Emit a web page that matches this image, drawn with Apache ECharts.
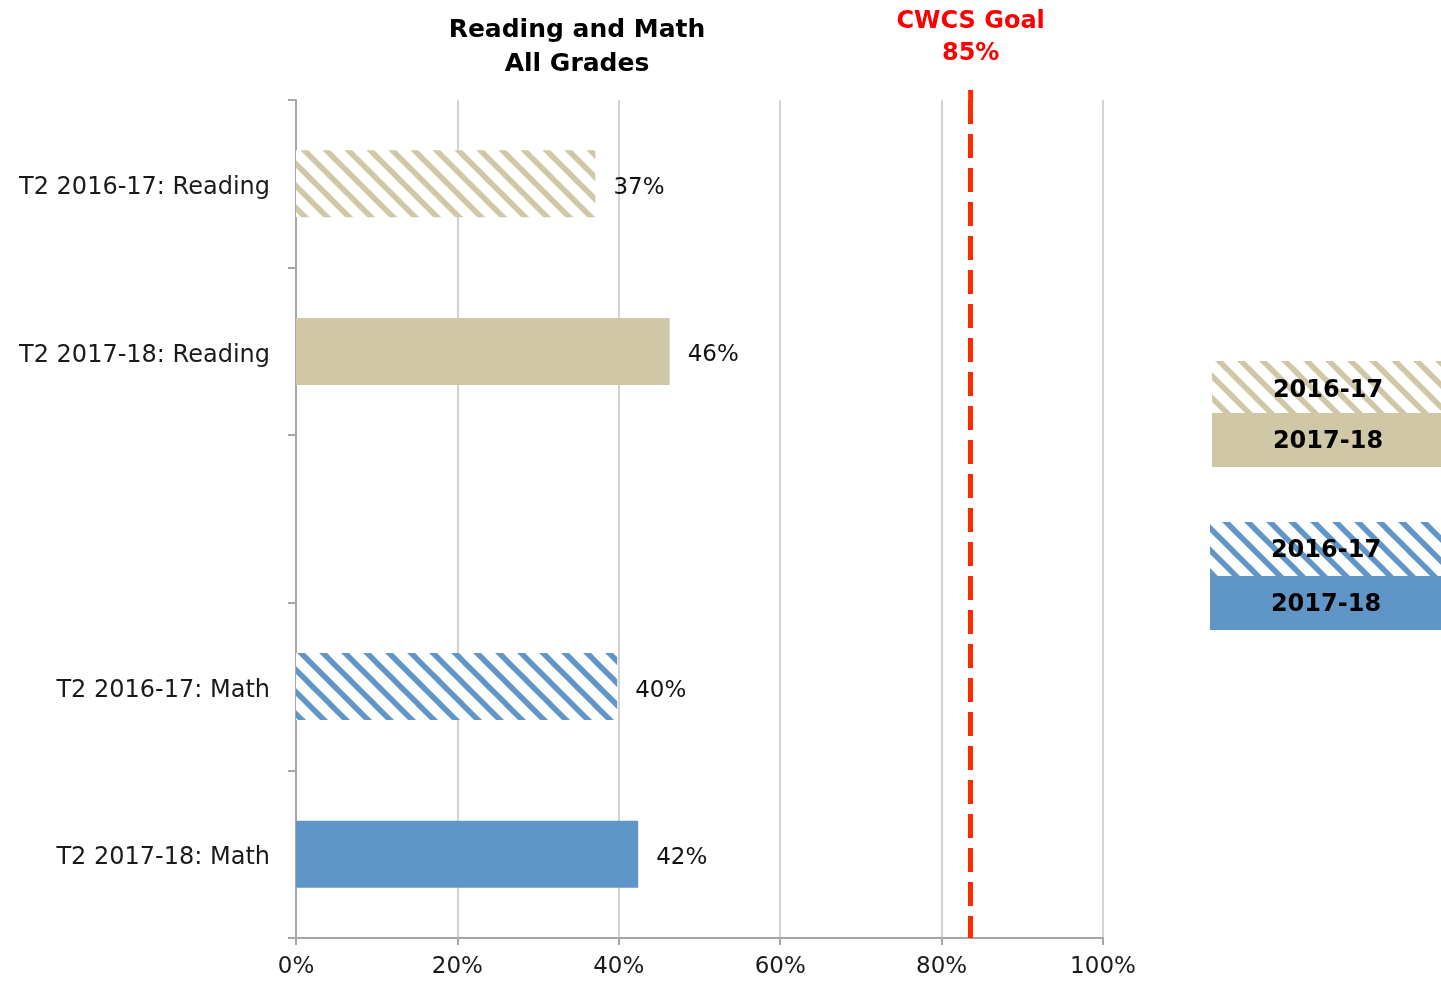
<!DOCTYPE html>
<html><head><meta charset="utf-8">
<script src="https://cdn.jsdelivr.net/npm/echarts@6/dist/echarts.min.js"></script>
<style>html,body{margin:0;padding:0;background:#fff}#c{width:1441px;height:989px}</style>
</head><body><div id="c"></div>
<script>
var categories = ['T2 2016-17: Reading', 'T2 2017-18: Reading', '', 'T2 2016-17: Math', 'T2 2017-18: Math'];
var values = [37.1, 46.3, null, 39.8, 42.4];
var styles = ['tanStripe', 'tanSolid', null, 'blueStripe', 'blueSolid'];
var xTicks = [0, 20, 40, 60, 80, 100];
var goalValue = 83.6;
var goalLabel = 'CWCS Goal\n85%';
var legendGroups = [['2016-17', '2017-18'], ['2016-17', '2017-18']];

var TAN = '#cfc7a6', BLUE = '#6095c8';
var FONT = 'DejaVu Sans';
function stripe(color) {
  var s = 22, c = document.createElement('canvas');
  c.width = s; c.height = s;
  var g = c.getContext('2d');
  g.fillStyle = '#fff'; g.fillRect(0, 0, s, s);
  g.strokeStyle = color; g.lineWidth = 5.5;
  for (var k = -1; k <= 1; k++) {
    g.beginPath(); g.moveTo(k * s - 2, -2); g.lineTo(k * s + s + 2, s + 2); g.stroke();
  }
  return { image: c, repeat: 'repeat' };
}
var fills = { tanStripe: stripe(TAN), tanSolid: TAN, blueStripe: stripe(BLUE), blueSolid: BLUE };

var chart = echarts.init(document.getElementById('c'));
var data = values.map(function (v, i) {
  return v == null ? null : { value: v, itemStyle: { color: fills[styles[i]] } };
});
chart.setOption({
  animation: false,
  title: {
    text: 'Reading and Math\nAll Grades', left: 572, top: 8, textAlign: 'center',
    textStyle: { fontFamily: FONT, fontSize: 25, fontWeight: 'bold', color: '#000', lineHeight: 34 }
  },
  grid: { left: 296, right: 338, top: 100, bottom: 51, containLabel: false },
  xAxis: {
    type: 'value', min: xTicks[0], max: xTicks[xTicks.length - 1], interval: xTicks[1] - xTicks[0],
    axisLine: { show: true, lineStyle: { color: '#a6a6a6', width: 2 } },
    axisTick: { show: true, length: 7, lineStyle: { color: '#a6a6a6', width: 2 } },
    splitLine: { show: true, lineStyle: { color: '#d3d3d3', width: 2 } },
    axisLabel: { formatter: '{value}%', margin: 18, fontFamily: FONT, fontSize: 23, color: '#1a1a1a' }
  },
  yAxis: {
    type: 'category', data: categories, inverse: true,
    axisLine: { show: true, lineStyle: { color: '#a6a6a6', width: 2 } },
    axisTick: { show: true, length: 8, lineStyle: { color: '#a6a6a6', width: 2 } },
    axisLabel: {
      margin: 26, fontFamily: FONT, fontSize: 24, color: '#1a1a1a',
      formatter: function (v) { return v ? '{a|' + v + '}' : ''; },
      rich: { a: { fontFamily: FONT, fontSize: 24, color: '#1a1a1a', padding: [8, 0, 0, 0] } }
    }
  },
  series: [{
    type: 'bar', data: data, barWidth: 67,
    label: {
      show: true, position: 'right', distance: 18, offset: [0, 4],
      formatter: function (p) { return Math.round(p.value) + '%'; },
      fontFamily: FONT, fontSize: 23, color: '#111'
    },
    markLine: {
      silent: true, symbol: 'none',
      lineStyle: { color: '#ff2a00', width: 5, type: [24, 10] },
      label: { show: false },
      data: [{ xAxis: goalValue }]
    }
  }]
});

var gx = chart.convertToPixel({ xAxisIndex: 0 }, goalValue);
chart.setOption({
  graphic: [
    { type: 'text', x: gx, y: 6, style: { text: goalLabel, align: 'center', fill: '#ff0000', font: 'bold 24px ' + FONT, lineHeight: 32 } },
    { type: 'line', shape: { x1: gx, y1: 90, x2: gx, y2: 100 }, style: { stroke: '#ff2a00', lineWidth: 5 } },
    { type: 'rect', shape: { x: 1212, y: 361, width: 240, height: 52 }, style: { fill: fills.tanStripe } },
    { type: 'rect', shape: { x: 1212, y: 413, width: 240, height: 54 }, style: { fill: TAN } },
    { type: 'rect', shape: { x: 1210, y: 522, width: 240, height: 54 }, style: { fill: fills.blueStripe } },
    { type: 'rect', shape: { x: 1210, y: 576, width: 240, height: 54 }, style: { fill: BLUE } },
    { type: 'text', x: 1328, y: 391, style: { text: legendGroups[0][0], align: 'center', verticalAlign: 'middle', fill: '#000', font: 'bold 24px ' + FONT } },
    { type: 'text', x: 1328, y: 442, style: { text: legendGroups[0][1], align: 'center', verticalAlign: 'middle', fill: '#000', font: 'bold 24px ' + FONT } },
    { type: 'text', x: 1326, y: 551, style: { text: legendGroups[1][0], align: 'center', verticalAlign: 'middle', fill: '#000', font: 'bold 24px ' + FONT } },
    { type: 'text', x: 1326, y: 605, style: { text: legendGroups[1][1], align: 'center', verticalAlign: 'middle', fill: '#000', font: 'bold 24px ' + FONT } }
  ]
});
</script></body></html>
